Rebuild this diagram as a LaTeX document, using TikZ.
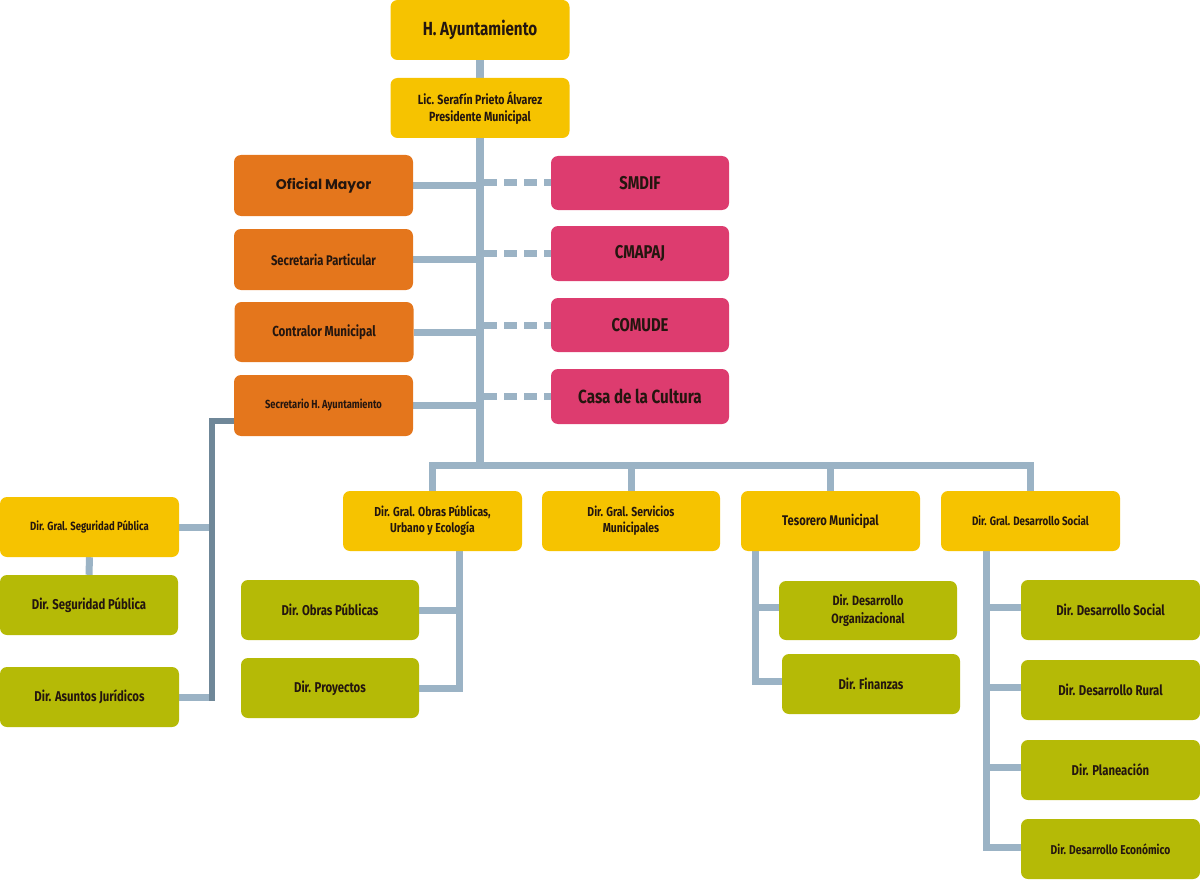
\documentclass[tikz,border=0pt]{standalone}
\usepackage{fontspec}
\setmainfont{Fira Sans}[FakeStretch=0.8]
\newfontfamily\widefont{Poppins}
\usetikzlibrary{calc,backgrounds}
\definecolor{cyel}{HTML}{F6C300}
\definecolor{corg}{HTML}{E4761C}
\definecolor{cpnk}{HTML}{DD3C6F}
\definecolor{colv}{HTML}{B5BA06}
\definecolor{cln}{HTML}{9BB3C5}
\definecolor{cdk}{HTML}{6F8798}
\definecolor{ctxt}{HTML}{24160F}
\tikzset{
  box/.style={rounded corners=7pt, inner sep=0pt, align=center, text=ctxt,
    font=\bfseries\fontsize{13}{16}\selectfont, minimum width=179pt, minimum height=60pt},
  ybox/.style={box, fill=cyel},
  obox/.style={box, fill=corg},
  pbox/.style={box, fill=cpnk, minimum width=178pt, minimum height=54pt, font=\bfseries\fontsize{19}{22}\selectfont},
  gbox/.style={box, fill=colv, font=\bfseries\fontsize{14.2}{18}\selectfont},
  conn/.style={draw=cln, line width=7pt, line join=miter},
  dconn/.style={draw=cln, line width=7pt, dash pattern=on 13pt off 7pt, dash phase=0pt},
  dkconn/.style={draw=cdk, line width=6pt, line join=miter},
}
\begin{document}
\begin{tikzpicture}[x=1pt,y=-1pt]
\useasboundingbox (0,0) rectangle (1200,880);
\coordinate (bus) at (480,465);
\coordinate (ls) at (212,421);
\coordinate (ov) at (459,551);
\coordinate (tv) at (755,551);
\coordinate (dv) at (986,551);

% nodes
\node[ybox, font=\bfseries\fontsize{19}{22}\selectfont] (ayu) at (480,30) {H. Ayuntamiento};
\node[ybox, font=\bfseries\fontsize{13.3}{17}\selectfont] (pres) at (480,108) {Lic. Serafín Prieto Álvarez\\Presidente Municipal};
\node[obox, minimum height=61pt, font=\widefont\bfseries\fontsize{14}{16}\selectfont] (ofm) at (323.5,185.5) {Oficial Mayor};
\node[obox, minimum height=61pt, font=\bfseries\fontsize{14}{16}\selectfont] (secp) at (323.5,259.5) {Secretaria Particular};
\node[obox, font=\bfseries\fontsize{14.5}{16}\selectfont] (cont) at (324,332) {Contralor Municipal};
\node[obox, minimum height=61pt, font=\bfseries\fontsize{11.7}{14}\selectfont] (secha) at (323.5,405.5) {Secretario H. Ayuntamiento};
\node[pbox, font=\bfseries\fontsize{18.5}{22}\selectfont] (smdif) at (640,183) {SMDIF};
\node[pbox, minimum height=55pt, font=\bfseries\fontsize{18.5}{22}\selectfont] (cmapaj) at (640,253.5) {CMAPAJ};
\node[pbox, font=\bfseries\fontsize{18.5}{22}\selectfont] (comude) at (640,325) {COMUDE};
\node[pbox, minimum height=55pt] (casa) at (640,396.5) {Casa de la Cultura};

\node[ybox] (dgop) at (432.5,521) {Dir. Gral. Obras Públicas,\\Urbano y Ecología};
\node[ybox, minimum width=178pt] (dgsm) at (631,521) {Dir. Gral. Servicios\\Municipales};
\node[ybox, font=\bfseries\fontsize{14}{16}\selectfont] (teso) at (830.5,521) {Tesorero Municipal};
\node[ybox, font=\bfseries\fontsize{12.2}{14}\selectfont] (dgds) at (1030.5,521) {Dir. Gral. Desarrollo Social};

\node[ybox, font=\bfseries\fontsize{11.9}{14}\selectfont] (dgsp) at (89.5,527) {Dir. Gral. Seguridad Pública};
\node[gbox, minimum width=178pt] (dsp) at (89,605) {Dir. Seguridad Pública};
\node[gbox] (daj) at (89.5,697) {Dir. Asuntos Jurídicos};

\node[gbox, minimum width=178pt] (dop) at (330,610) {Dir. Obras Públicas};
\node[gbox, minimum width=178pt] (dpr) at (330,688) {Dir. Proyectos};

\node[gbox, minimum width=178pt, minimum height=59pt, font=\bfseries\fontsize{13.5}{18}\selectfont] (ddo) at (868,610.5) {Dir. Desarrollo\\Organizacional};
\node[gbox, minimum width=178pt] (dfi) at (871,684) {Dir. Finanzas};

\node[gbox] (dds) at (1110.5,610) {Dir. Desarrollo Social};
\node[gbox] (ddr) at (1110.5,690) {Dir. Desarrollo Rural};
\node[gbox] (dpl) at (1110.5,770) {Dir. Planeación};
\node[gbox, font=\bfseries\fontsize{12.8}{16}\selectfont] (dde) at (1110.5,849) {Dir. Desarrollo Económico};

\begin{pgfonlayer}{background}
% trunk
\draw[conn, line width=8pt] (ayu.south) -- (pres.north);
\draw[conn, line width=8pt] (pres.south) -- (bus);
% staff lines
\foreach \o in {ofm,secp,cont,secha} \draw[conn] (\o.east) -- (\o.east -| bus);
\foreach \p in {smdif,cmapaj,comude,casa} \draw[dconn] ($(\p.west -| bus)+(4,0)$) -- (\p.west);
% bus
\draw[conn] ($(dgop.north |- bus)+(-3.5,0)$) -- ($(dgds.north |- bus)+(3.5,0)$);
\foreach \d in {dgop,dgsm,teso,dgds} \draw[conn] (\d.north |- bus) -- (\d.north);
% left branch
\draw[conn] (dgsp.east) -- (dgsp.east -| ls);
\draw[conn] (daj.east) -- (daj.east -| ls);
\draw[conn] (dgsp.south) -- (dsp.north);
\draw[dkconn] (secha.west |- ls) -- (ls) -- ($(daj.east -| ls)+(0,3.5)$);
% obras branch
\draw[conn] (ov) -- (dpr.east -| ov) -- (dpr.east);
\draw[conn] (dop.east) -- (dop.east -| ov);
% tesorero branch
\draw[conn] (tv) -- ($(dfi.west -| tv)+(0,-3)$) -- ($(dfi.west)+(0,-3)$);
\draw[conn] ($(ddo.west)+(0,-3)$) -- ($(ddo.west -| tv)+(0,-3)$);
% desarrollo social branch
\draw[conn] (dv) -- ($(dde.west -| dv)+(0,-2)$) -- ($(dde.west)+(0,-2)$);
\foreach \g in {dds,ddr,dpl} \draw[conn] ($(\g.west)+(0,-3)$) -- ($(\g.west -| dv)+(0,-3)$);
\end{pgfonlayer}
\end{tikzpicture}
\end{document}
